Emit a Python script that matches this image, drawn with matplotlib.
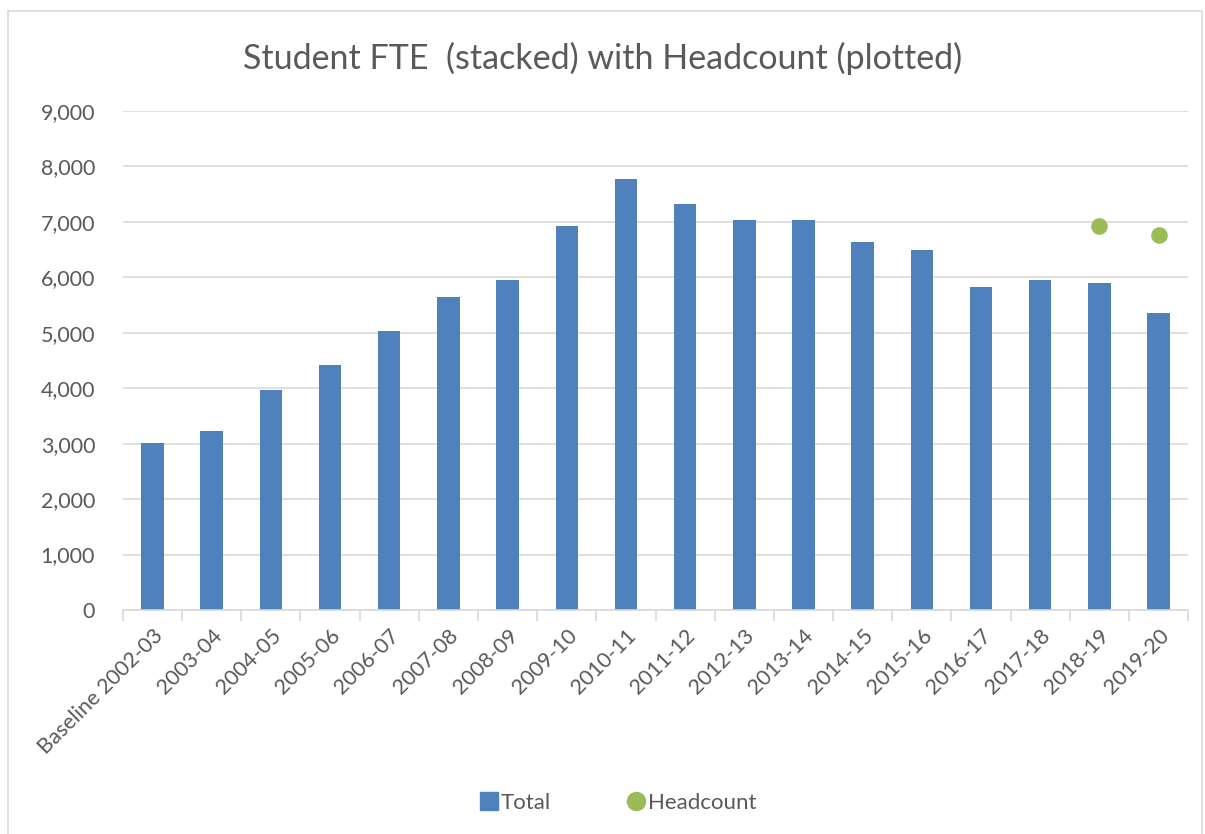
import numpy as np
import matplotlib.pyplot as plt
from matplotlib.patches import Rectangle
from matplotlib.lines import Line2D

plt.rcParams['font.family'] = ['Lato', 'DejaVu Sans']

years = ['Baseline 2002-03', '2003-04', '2004-05', '2005-06', '2006-07', '2007-08',
         '2008-09', '2009-10', '2010-11', '2011-12', '2012-13', '2013-14', '2014-15',
         '2015-16', '2016-17', '2017-18', '2018-19', '2019-20']
total = [3020, 3230, 3970, 4410, 5040, 5650, 5950, 6920, 7780, 7330, 7040, 7040,
         6640, 6500, 5830, 5960, 5890, 5360]
headcount = [np.nan] * 16 + [6920, 6760]

grey = '#595959'
blue = '#4f81bd'
green = '#9bbb59'

fig = plt.figure(figsize=(12.05, 8.34), dpi=100)
fig.patches.append(Rectangle((8 / 1205, -0.01), 1194 / 1205, 1 - 11 / 834 + 0.01,
                             transform=fig.transFigure, fill=False,
                             edgecolor='#d9d9d9', linewidth=1.2))
ax = fig.add_axes([0.102, 0.2686, 0.884, 0.5983])

x = np.arange(len(years))
ax.bar(x, total, width=0.38, color=blue, zorder=2)
ax.scatter(x, headcount, s=120, color=green, zorder=3)

ax.set_xlim(-0.5, len(years) - 0.5)
ax.set_ylim(0, 9000)
ax.set_yticks(range(0, 9001, 1000))
ax.set_yticklabels([f'{v:,}' for v in range(0, 9001, 1000)])
ax.grid(axis='y', color='#d9d9d9', linewidth=1.2, zorder=0)
ax.set_axisbelow(True)
for s in ['top', 'right', 'left']:
    ax.spines[s].set_visible(False)
ax.spines['bottom'].set_color('#d9d9d9')
ax.spines['bottom'].set_linewidth(1.2)

ax.set_xticks(x)
ax.set_xticklabels(years, rotation=45, ha='right', rotation_mode='anchor')
ax.set_xticks(np.arange(-0.5, len(years)), minor=True)
ax.tick_params(axis='x', which='major', length=0, pad=11, labelsize=15.5, labelcolor=grey)
ax.tick_params(axis='x', which='minor', length=8, color='#d9d9d9', width=1.2)
ax.tick_params(axis='y', length=0, pad=20, labelsize=15.5, labelcolor=grey)

fig.text(0.5, 0.93, 'Student FTE  (stacked) with Headcount (plotted)', ha='center',
         va='center', fontsize=24.5, color=grey)

handles = [Line2D([], [], marker='s', linestyle='', color=blue, markersize=13),
           Line2D([], [], marker='o', linestyle='', color=green, markersize=13)]
fig.legend(handles, ['Total', 'Headcount'], loc='center', bbox_to_anchor=(0.512, 0.037),
           ncol=2, frameon=False, fontsize=16, labelcolor=grey, columnspacing=3.3,
           handletextpad=0.05, handlelength=1.0)

fig.savefig('out.png', dpi=100)
